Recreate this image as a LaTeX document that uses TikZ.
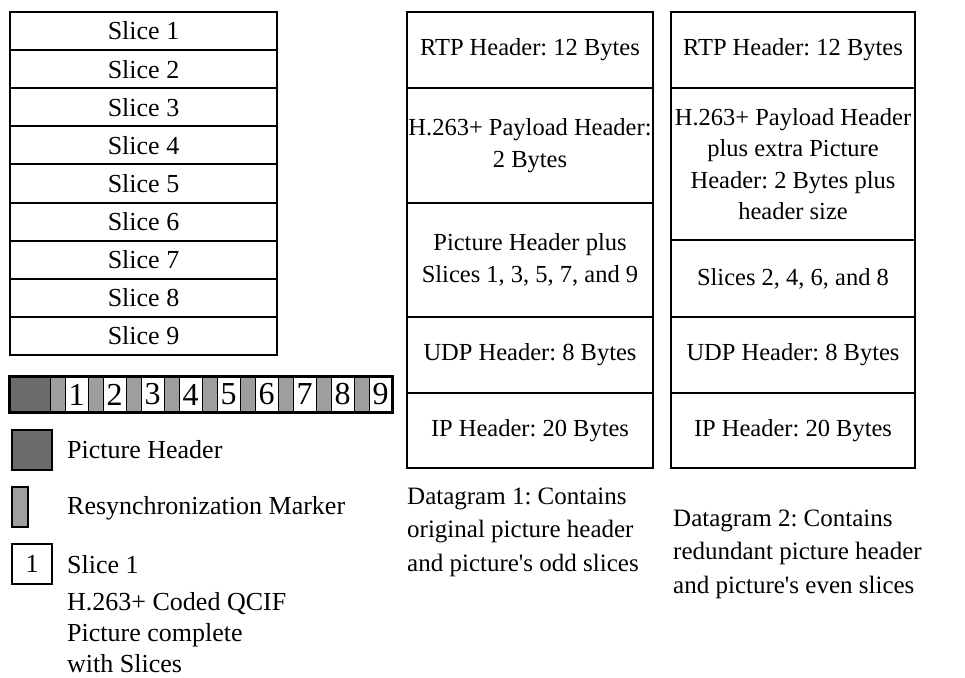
\documentclass[tikz,border=0pt]{standalone}
\usepackage{fontspec}
\setmainfont{Liberation Serif}
\frenchspacing
\newcommand{\slicefont}{\fontsize{26}{31}\selectfont}
\newcommand{\dgfont}{\fontsize{24.5}{31.5}\selectfont}
\newcommand{\capfont}{\fontsize{25}{33.5}\selectfont}
\newcommand{\barfont}{\fontsize{32}{32}\selectfont}
\begin{document}
\begin{tikzpicture}[x=1pt,y=-1pt,
  cell/.style={draw, line width=2pt, inner sep=0pt, align=center},
  seg/.style={draw, line width=1pt, inner sep=0pt, minimum height=35pt},
  phfill/.style={fill=black!58},
  mkfill/.style={fill=black!38},
  label/.style={inner sep=0pt, anchor=west, align=left}]
\useasboundingbox (0,0) rectangle (965,677);

% the nine slices of the coded picture
\foreach \i in {1,...,9} {
  \node[cell, font=\slicefont, minimum width=267pt, minimum height=38.1pt]
    (sl\i) at (143.5, {12+38.1*\i-19.05}) {Slice \i};
}

% bit stream: picture header, then marker + slice for each slice
\node[seg, phfill, minimum width=40pt] (ph) at (30,394.5) {};
\foreach \i in {1,...,9} {
  \pgfmathsetmacro\mx{50+38*(\i-1)+7.5}
  \pgfmathsetmacro\bx{50+38*(\i-1)+26.5}
  \node[seg, mkfill, minimum width=15pt] (m\i) at (\mx,394.5) {};
  \node[seg, font=\barfont, minimum width=23pt] (b\i) at (\bx,394.5) {\i};
}
\draw[line width=2.2pt] (ph.north west) rectangle (b9.south east);

% legend
\node[draw, line width=2pt, phfill, minimum width=40pt, minimum height=40pt, inner sep=0pt]
  (lgph) at (32,450) {};
\node[label, font=\slicefont] (lgphtxt) at (67,450) {Picture Header};
\node[draw, line width=2pt, mkfill, minimum width=16pt, minimum height=40pt, inner sep=0pt]
  (lgmk) at (20,507) {};
\node[label, font=\slicefont] (lgmktxt) at (67,508) {Resynchronization Marker};
\node[draw, line width=2pt, minimum width=40pt, minimum height=40pt, inner sep=0pt, font=\slicefont]
  (lgsl) at (32,564) {1};
\node[label, font=\slicefont] (lgsltxt) at (67,565) {Slice 1};
\node[label, font=\slicefont] (lgcap) at (67,633) {H.263+ Coded QCIF\\Picture complete\\with Slices};

% datagram 1
\begin{scope}[every node/.style={cell, font=\dgfont, minimum width=246pt}]
  \node[minimum height=76pt]  (d1rtp) at (530,50)    {RTP Header: 12 Bytes};
  \node[minimum height=115pt] (d1pl)  at (530,145.5) {H.263+ Payload Header:\\2 Bytes};
  \node[minimum height=114pt] (d1sl)  at (530,260)   {Picture Header plus\\Slices 1, 3, 5, 7, and 9};
  \node[minimum height=76pt]  (d1udp) at (530,355)   {UDP Header: 8 Bytes};
  \node[minimum height=75pt]  (d1ip)  at (530,430.5) {IP Header: 20 Bytes};
\end{scope}

% datagram 2
\begin{scope}[every node/.style={cell, font=\dgfont, minimum width=244pt}]
  \node[minimum height=76pt]  (d2rtp) at (793,50)    {RTP Header: 12 Bytes};
  \node[minimum height=152pt] (d2pl)  at (793,164)   {H.263+ Payload Header\\plus extra Picture\\Header: 2 Bytes plus\\header size};
  \node[minimum height=77pt]  (d2sl)  at (793,278.5) {Slices 2, 4, 6, and 8};
  \node[minimum height=76pt]  (d2udp) at (793,355)   {UDP Header: 8 Bytes};
  \node[minimum height=75pt]  (d2ip)  at (793,430.5) {IP Header: 20 Bytes};
\end{scope}

% captions
\node[label, font=\capfont] (cap1) at (407,532) {Datagram 1: Contains\\original picture header\\and picture\textquotesingle s odd slices};
\node[label, font=\capfont] (cap2) at (673,554) {Datagram 2: Contains\\redundant picture header\\and picture\textquotesingle s even slices};
\end{tikzpicture}
\end{document}
